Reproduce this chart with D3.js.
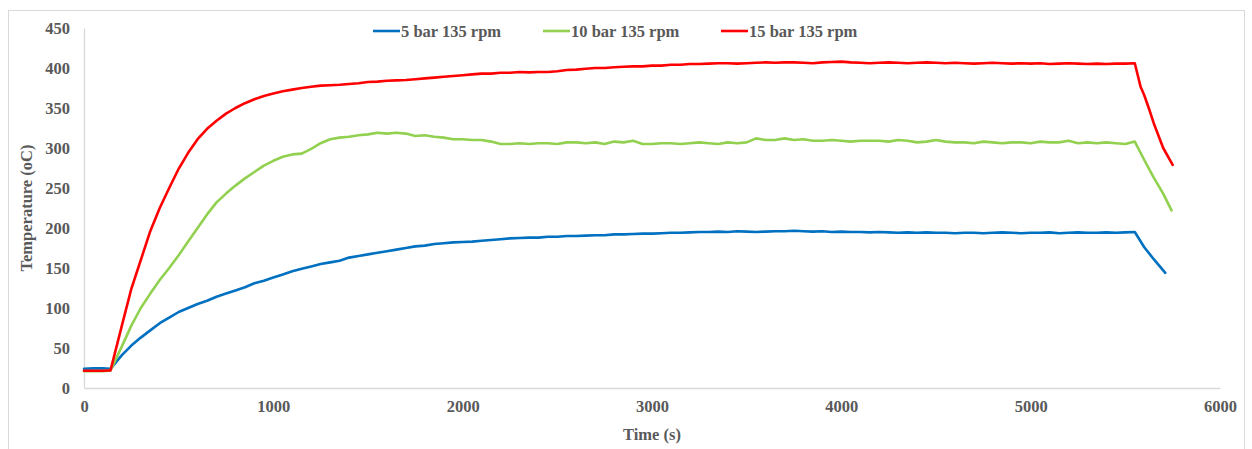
<!DOCTYPE html>
<html>
<head>
<meta charset="utf-8">
<script src="https://cdn.jsdelivr.net/npm/d3@7"></script>
<style>
  html, body { margin: 0; padding: 0; background: #fff; }
  svg { display: block; }
  text { font-family: "Liberation Serif", "Times New Roman", serif; font-weight: bold; fill: #595959; }
</style>
</head>
<body>
<svg id="chart" width="1252" height="449"></svg>
<script>
// ---------- data ----------
const time = [
  0, 50, 100, 140, 200, 250, 300, 350, 400, 450,
  500, 550, 600, 650, 700, 750, 800, 850, 900, 950,
  1000, 1050, 1100, 1150, 1200, 1250, 1300, 1350, 1400, 1450,
  1500, 1550, 1600, 1650, 1700, 1750, 1800, 1850, 1900, 1950,
  2000, 2050, 2100, 2150, 2200, 2250, 2300, 2350, 2400, 2450,
  2500, 2550, 2600, 2650, 2700, 2750, 2800, 2850, 2900, 2950,
  3000, 3050, 3100, 3150, 3200, 3250, 3300, 3350, 3400, 3450,
  3500, 3550, 3600, 3650, 3700, 3750, 3800, 3850, 3900, 3950,
  4000, 4050, 4100, 4150, 4200, 4250, 4300, 4350, 4400, 4450,
  4500, 4550, 4600, 4650, 4700, 4750, 4800, 4850, 4900, 4950,
  5000, 5050, 5100, 5150, 5200, 5250, 5300, 5350, 5400, 5450,
  5500, 5550
];

const bar5 = [
  24, 24.5, 24.5, 24, 41, 53, 63, 72, 81, 88,
  95, 100, 105, 109, 114, 118, 122, 126, 131, 134,
  138, 142, 146, 149, 152, 155, 157, 159, 163, 165,
  167, 169, 171, 173, 175, 177, 178, 180, 181, 182,
  182.5, 183, 184, 185, 186, 187, 187.5, 188, 188, 189,
  189, 190, 190, 190.5, 191, 191, 192, 192, 192.5, 193,
  193, 193.5, 194, 194, 194.5, 195, 195, 195.5, 195, 196,
  195.5, 195, 195.5, 196, 196, 196.5, 196, 195.5, 196, 195,
  195.5, 195, 195, 194.5, 195, 194.5, 194, 194.5, 194, 194.5,
  194, 194, 193.5, 194, 194, 193.5, 194, 194.5, 194, 193.5,
  194, 194, 194.5, 193.5, 194, 194.5, 194, 194, 194.5, 194,
  194.5, 195
];
const bar5TailTime = [5600, 5650, 5711];
const bar5Tail = [176, 161, 144];

const bar10 = [
  21, 21, 21, 22, 52, 78, 100, 118, 135, 150,
  166, 183, 200, 217, 232, 243, 253, 262, 270, 278,
  284, 289, 292, 293, 299, 306, 311, 313, 314, 316,
  317, 319, 318, 319, 318, 315, 316, 314, 313, 311,
  311, 310, 310, 308, 305, 305, 306, 305, 306, 306,
  305, 307, 307, 306, 307, 305, 308, 307, 309, 305,
  305, 306, 306, 305, 306, 307, 306, 305, 307, 306,
  307, 312, 310, 310, 312, 310, 311, 309, 309, 310,
  309, 308, 309, 309, 309, 308, 310, 309, 307, 308,
  310, 308, 307, 307, 306, 308, 307, 306, 307, 307,
  306, 308, 307, 307, 309, 306, 307, 306, 307, 306,
  305, 308
];
const bar10TailTime = [5600, 5650, 5700, 5744];
const bar10Tail = [285, 263, 243, 222];

const bar15 = [
  21.5, 21.5, 21.5, 22, 78, 124, 160, 196, 225, 250,
  274, 294, 311, 324, 334, 343, 350, 356, 361, 365,
  368, 371, 373, 375, 376.5, 378, 378.5, 379, 380, 381,
  382.5, 383, 384, 384.5, 385, 386, 387, 388, 389, 390,
  391, 392, 393, 393, 394, 394, 395, 394.5, 395, 395,
  396, 397.5, 398, 399, 400, 400, 401, 401.5, 402, 402,
  403, 403, 404, 404, 405, 405, 405.5, 406, 406, 405.5,
  406, 406.5, 407, 406.5, 407, 407, 406.5, 406, 407, 407.5,
  408, 407, 406.5, 406, 406.5, 407, 406.5, 406, 406.5, 407,
  406.5, 406, 406.5, 406, 405.5, 406, 406.5, 406, 405.5, 406,
  405.5, 406, 405, 405.5, 406, 405.5, 405, 405.5, 405, 405.5,
  405.5, 406
];
const bar15TailTime = [5580, 5600, 5625, 5650, 5700, 5750];
const bar15Tail = [377, 366, 349, 331, 300, 279];

const seriesNames = ["5 bar 135 rpm", "10 bar 135 rpm", "15 bar 135 rpm"];
const seriesColors = ["#0070C0", "#92D050", "#FF0000"];
const xTicks = [0, 1000, 2000, 3000, 4000, 5000, 6000];
const yTicks = [0, 50, 100, 150, 200, 250, 300, 350, 400, 450];
const xTitle = "Time (s)";
const yTitle = "Temperature (oC)";

// ---------- build ----------
function build(vals, tailT, tailV) {
  const pts = time.map((t, i) => ({ t: t, v: vals[i] }));
  tailT.forEach((t, i) => pts.push({ t: t, v: tailV[i] }));
  return pts;
}
const series = [
  build(bar5, bar5TailTime, bar5Tail),
  build(bar10, bar10TailTime, bar10Tail),
  build(bar15, bar15TailTime, bar15Tail)
];

const svg = d3.select("#chart");

// outer chart border
svg.append("rect")
  .attr("x", 8.5).attr("y", 10.5)
  .attr("width", 1236).attr("height", 445)
  .attr("fill", "none").attr("stroke", "#D9D9D9").attr("stroke-width", 1);

const pLeft = 84, pRight = 1220, pTop = 28, pBottom = 388;
const x = d3.scaleLinear().domain([0, 6000]).range([pLeft, pRight]);
const y = d3.scaleLinear().domain([0, 450]).range([pBottom, pTop]);

// axes
const xAxis = svg.append("g").attr("transform", `translate(0,${pBottom})`)
  .call(d3.axisBottom(x).tickValues(xTicks).tickSize(0).tickPadding(12).tickFormat(d3.format("d")));
const yAxis = svg.append("g").attr("transform", `translate(${pLeft},0)`)
  .call(d3.axisLeft(y).tickValues(yTicks).tickSize(0).tickPadding(14).tickFormat(d3.format("d")));
[xAxis, yAxis].forEach(g => {
  g.select(".domain").attr("stroke", "#D9D9D9").attr("stroke-width", 1.3);
  g.selectAll("text").style("font-size", "16.5px").attr("fill", "#595959")
    .style("font-family", "'Liberation Serif', 'Times New Roman', serif").style("font-weight", "bold");
});

// lines
const line = d3.line().x(d => x(d.t)).y(d => y(d.v));
series.forEach((s, i) => {
  svg.append("path").datum(s)
    .attr("d", line)
    .attr("fill", "none")
    .attr("stroke", seriesColors[i])
    .attr("stroke-width", 2.6)
    .attr("stroke-linejoin", "round")
    .attr("stroke-linecap", "round");
});

// axis titles
svg.append("text")
  .attr("x", (pLeft + pRight) / 2).attr("y", 440)
  .attr("text-anchor", "middle").style("font-size", "16.5px")
  .text(xTitle);
svg.append("text")
  .attr("transform", `translate(32,${(pTop + pBottom) / 2}) rotate(-90)`)
  .attr("text-anchor", "middle").style("font-size", "16.5px")
  .text(yTitle);

// legend
const legendX = [373, 543, 721];
const lg = svg.append("g");
seriesNames.forEach((n, i) => {
  lg.append("line")
    .attr("x1", legendX[i]).attr("x2", legendX[i] + 27)
    .attr("y1", 31).attr("y2", 31)
    .attr("stroke", seriesColors[i]).attr("stroke-width", 2.6);
  lg.append("text")
    .attr("x", legendX[i] + 28).attr("y", 31)
    .attr("dy", "0.35em").style("font-size", "16.5px")
    .text(n);
});
</script>
</body>
</html>
